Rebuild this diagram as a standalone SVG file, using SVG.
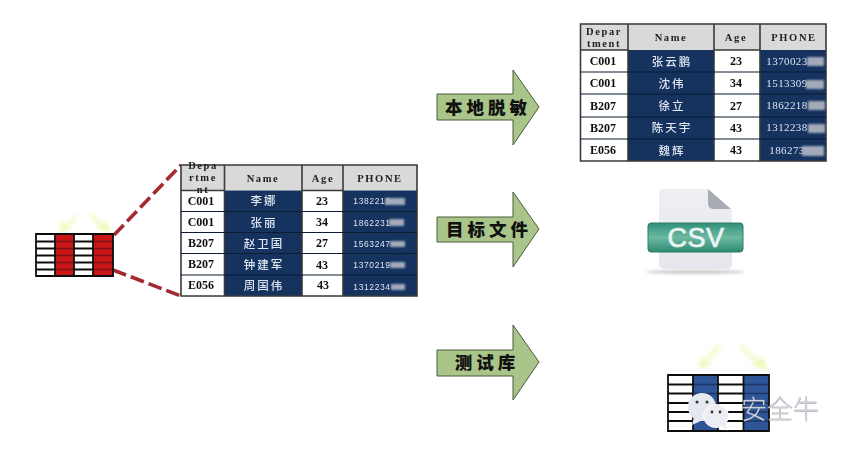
<svg xmlns="http://www.w3.org/2000/svg" width="849" height="454" viewBox="0 0 849 454">
<defs>
<filter id="b1" x="-50%" y="-50%" width="200%" height="200%"><feGaussianBlur stdDeviation="1.2"/></filter>
<filter id="b3" x="-50%" y="-50%" width="200%" height="200%"><feGaussianBlur stdDeviation="2.2"/></filter>
<filter id="b2" x="-30%" y="-200%" width="160%" height="500%"><feGaussianBlur stdDeviation="1.5"/></filter>
<filter id="soft" x="-5%" y="-5%" width="110%" height="110%"><feGaussianBlur stdDeviation="0.4"/></filter>
<linearGradient id="csv" x1="0" y1="0" x2="0" y2="1"><stop offset="0" stop-color="#2f8f78"/><stop offset="0.5" stop-color="#6db9a2"/><stop offset="1" stop-color="#2d8a72"/></linearGradient>
<linearGradient id="doc" x1="0" y1="0" x2="0" y2="1"><stop offset="0" stop-color="#eeeff3"/><stop offset="1" stop-color="#e6e7ec"/></linearGradient>
</defs>
<style>
text{font-family:"Liberation Serif","Noto Sans CJK SC",serif;text-anchor:middle}
.hd{fill:#d9d9d9}.w{fill:#fff}.nv{fill:#12305f}
.ln{stroke:#3a3a3a;stroke-width:1.6;fill:none}
.dk{stroke:#0b1a33;stroke-width:1.2;fill:none}
.th{font-weight:700;font-size:10.5px;letter-spacing:1.6px;fill:#222}
.id{font-weight:700;font-size:12px;fill:#111}
.nm{font-family:"Noto Sans CJK SC","Liberation Sans",sans-serif;font-weight:500;font-size:11.5px;letter-spacing:2px;fill:#dfe6f0}
.ph{font-family:"Liberation Sans",sans-serif;font-size:8.5px;letter-spacing:.6px;fill:#dfe6f0}
.ph2{font-family:"Liberation Serif",serif;font-size:11px;letter-spacing:.4px;fill:#dfe6f0}
.mask{fill:#a3abba;filter:url(#b1)}
.arrow{fill:#a9c58a;stroke:#4a5a3a;stroke-width:1}
.al{font-family:"Noto Sans CJK SC",sans-serif;font-weight:900;font-size:17.5px;letter-spacing:4px;fill:#111}
.yl{stroke:#f1f9c4;stroke-width:4;fill:none;filter:url(#b3)}
.yh{fill:#eef8b4;filter:url(#b3)}
.mg{stroke:#111;stroke-width:1.8;fill:none}
</style>

<g id="connectors">
<path d="M114 235L181 165M113 270L181 296" stroke="#a32a30" stroke-width="3.6" stroke-dasharray="14 5" fill="none"/>
</g>

<g id="source-grid" filter="url(#soft)">
<path class="yl" d="M76 216L66 228M91 214L102 227"/>
<path class="yh" d="M60 233L61 221L71 228Z"/>
<path class="yh" d="M110 233L98 228L107 220Z"/>
<rect x="36" y="234" width="77" height="42" fill="#fff"/>
<rect x="55" y="234" width="19" height="42" fill="#c81418"/>
<rect x="93" y="234" width="20" height="42" fill="#c81418"/>
<path d="M36 241.500H55M74 241.500H93M36 248.500H55M74 248.500H93M36 255.500H55M74 255.500H93M36 262.500H55M74 262.500H93M36 269.500H55M74 269.500H93" stroke="#111" stroke-width="1.800" fill="none"/>
<path d="M55 241.500H74M93 241.500H113M55 248.500H74M93 248.500H113M55 255.500H74M93 255.500H113M55 262.500H74M93 262.500H113M55 269.500H74M93 269.500H113" stroke="#7d1014" stroke-width="1.500" fill="none"/>
<path class="mg" d="M36 234H113V276H36ZM55 234V276M74 234V276M93 234V276"/>
</g>

<g id="table-source" filter="url(#soft)">
<rect class="hd" x="181" y="165" width="236" height="25.5"/>
<rect class="w" x="181" y="190.5" width="43.5" height="105.500"/>
<rect class="nv" x="224.500" y="190.500" width="77.500" height="105.500"/>
<rect class="w" x="302" y="190.500" width="41" height="105.500"/>
<rect class="nv" x="343" y="190.500" width="74" height="105.500"/>
<path class="ln" d="M181 165H417V296H181ZM224.500 165V296M302 165V296M343 165V296M181 190.500H224.500M302 190.500H343"/>
<path class="dk" d="M181 211.500H417M181 232.500H417M181 253.500H417M181 275H417"/>
<text class="th" x="203" y="169">Depa</text>
<text class="th" x="203" y="181">rtme</text>
<text class="th" x="203" y="193">nt</text>
<text class="th" x="263" y="182">Name</text>
<text class="th" x="323" y="182">Age</text>
<text class="th" x="380" y="182">PHONE</text>
<text class="id" x="201" y="205">C001</text><text class="id" x="201" y="226">C001</text><text class="id" x="201" y="247">B207</text><text class="id" x="201" y="268">B207</text><text class="id" x="201" y="289">E056</text>
<text class="nm" x="264" y="205">李娜</text><text class="nm" x="264" y="227">张丽</text><text class="nm" x="264" y="248">赵卫国</text><text class="nm" x="264" y="269">钟建军</text><text class="nm" x="264" y="290">周国伟</text>
<text class="id" x="322" y="205">23</text><text class="id" x="322" y="226">34</text><text class="id" x="322" y="247">27</text><text class="id" x="322" y="269">43</text><text class="id" x="323" y="289">43</text>
<text class="ph" x="372" y="204">1382213</text><text class="ph" x="372" y="226">1862231</text><text class="ph" x="372" y="247">1563247</text><text class="ph" x="372" y="268">1370219</text><text class="ph" x="372" y="290">1312234</text>
<rect class="mask" x="385" y="198" width="20" height="7"/><rect class="mask" x="389" y="219" width="15" height="7"/><rect class="mask" x="390" y="241" width="15" height="6"/><rect class="mask" x="390" y="262" width="15" height="6"/><rect class="mask" x="391" y="284" width="14" height="6"/>
</g>

<g id="table-masked" filter="url(#soft)">
<rect class="hd" x="580.500" y="24" width="245.500" height="26"/>
<rect class="w" x="580.500" y="50" width="47.500" height="111"/>
<rect class="nv" x="628" y="50" width="86" height="111"/>
<rect class="w" x="714" y="50" width="46" height="111"/>
<rect class="nv" x="760" y="50" width="66" height="111"/>
<path class="ln" d="M580.500 24H826V161H580.500ZM628 24V161M714 24V161M760 24V161M580.500 50H628M714 50H760"/>
<path class="dk" d="M580.500 72H826M580.500 94H826M580.500 117H826M580.500 139H826"/>
<text class="th" x="604" y="35">Depar</text>
<text class="th" x="604" y="47">tment</text>
<text class="th" x="671" y="41">Name</text>
<text class="th" x="736" y="41">Age</text>
<text class="th" x="794" y="41">PHONE</text>
<text class="id" x="603" y="65">C001</text><text class="id" x="603" y="87">C001</text><text class="id" x="603" y="110">B207</text><text class="id" x="603" y="132">B207</text><text class="id" x="603" y="154">E056</text>
<text class="nm" x="672" y="66">张云鹏</text><text class="nm" x="672" y="88">沈伟</text><text class="nm" x="672" y="110">徐立</text><text class="nm" x="672" y="132">陈天宇</text><text class="nm" x="672" y="155">魏辉</text>
<text class="id" x="736" y="65">23</text><text class="id" x="736" y="87">34</text><text class="id" x="736" y="110">27</text><text class="id" x="736" y="132">43</text><text class="id" x="736" y="154">43</text>
<text class="ph2" x="787" y="65">1370023</text><text class="ph2" x="787" y="87">1513309</text><text class="ph2" x="787" y="109">1862218</text><text class="ph2" x="787" y="131">1312238</text><text class="ph2" x="787" y="154">186273</text>
<rect class="mask" x="807" y="57" width="17" height="9"/><rect class="mask" x="806" y="80" width="18" height="9"/><rect class="mask" x="808" y="101" width="17" height="9"/><rect class="mask" x="808" y="124" width="17" height="9"/><rect class="mask" x="802" y="146" width="22" height="10"/>
</g>

<g id="arrow-desensitize">
<path class="arrow" d="M437 94H513V70L539 107L513 145V120H437Z"/>
<text class="al" x="488" y="114">本地脱敏</text>
</g>
<g id="arrow-file">
<path class="arrow" d="M437 217H513V192L539 229L513 267V242H437Z"/>
<text class="al" x="489" y="236">目标文件</text>
</g>
<g id="arrow-testdb">
<path class="arrow" d="M437 350H513V325L539 362L513 400V376H437Z"/>
<text class="al" x="487" y="369">测试库</text>
</g>

<g id="csv-file">
<ellipse cx="695" cy="272" rx="49" ry="1.800" fill="#c4c4c4" filter="url(#b2)"/>
<path d="M663 189H708L732 210V264Q732 269 726 269H665Q659 269 659 264V193Q659 189 663 189Z" fill="url(#doc)" filter="url(#soft)"/>
<path d="M708 189L731 209H714Q708 209 708 203Z" fill="#a9abb3" filter="url(#soft)"/>
<rect x="648" y="223" width="95" height="29" rx="3" fill="url(#csv)" stroke="#2b7d68" filter="url(#soft)"/>
<text x="696" y="247" font-size="27" fill="#e8f5f2" stroke="#e8f5f2" stroke-width=".7" style="font-family:'Liberation Sans',sans-serif;letter-spacing:.5px">CSV</text>
</g>

<g id="target-grid" filter="url(#soft)">
<path class="yl" d="M720 346L706 360M740 345L757 362"/>
<path class="yh" d="M699 369L701 357L711 364Z"/>
<path class="yh" d="M768 371L753 365L762 356Z"/>
<rect x="668" y="375" width="101" height="56" fill="#fff"/>
<rect x="693" y="375" width="25" height="56" fill="#2f5597"/>
<rect x="743.500" y="375" width="25.500" height="56" fill="#2f5597"/>
<path class="mg" d="M668 384.500H693M718 384.500H743.500M668 393.500H693M718 393.500H743.500M668 403H693M718 403H743.500M668 412H693M718 412H743.500M668 421H693M718 421H743.500"/>
<path d="M693 384.500H718M743.500 384.500H769M693 393.500H718M743.500 393.500H769M693 403H718M743.500 403H769M693 412H718M743.500 412H769M693 421H718M743.500 421H769" stroke="#1c3563" stroke-width="1.500" fill="none"/>
<path class="mg" d="M668 375H769V431H668ZM693 375V431M718 375V431M743.500 375V431"/>
</g>

<g id="watermark" filter="url(#soft)">
<ellipse cx="702" cy="407" rx="14" ry="14" fill="#e6e8f0"/>
<path d="M694 417L692 425L703 420Z" fill="#e6e8f0"/>
<circle cx="697" cy="402" r="1.500" fill="#333"/><circle cx="707" cy="402" r="1.500" fill="#333"/>
<ellipse cx="716" cy="416" rx="12.500" ry="11.500" fill="#eceef4" stroke="#fff"/>
<path d="M721 425L727 431L725 419Z" fill="#eceef4"/>
<circle cx="712" cy="412" r="1.400" fill="#333"/><circle cx="720" cy="412" r="1.400" fill="#333"/>
<text x="780" y="419" font-size="26" fill="#e8eaf0" stroke="#8a8d95" stroke-width=".35" style="font-family:'Noto Sans CJK SC',sans-serif;font-weight:300">安全牛</text>
</g>
</svg>
